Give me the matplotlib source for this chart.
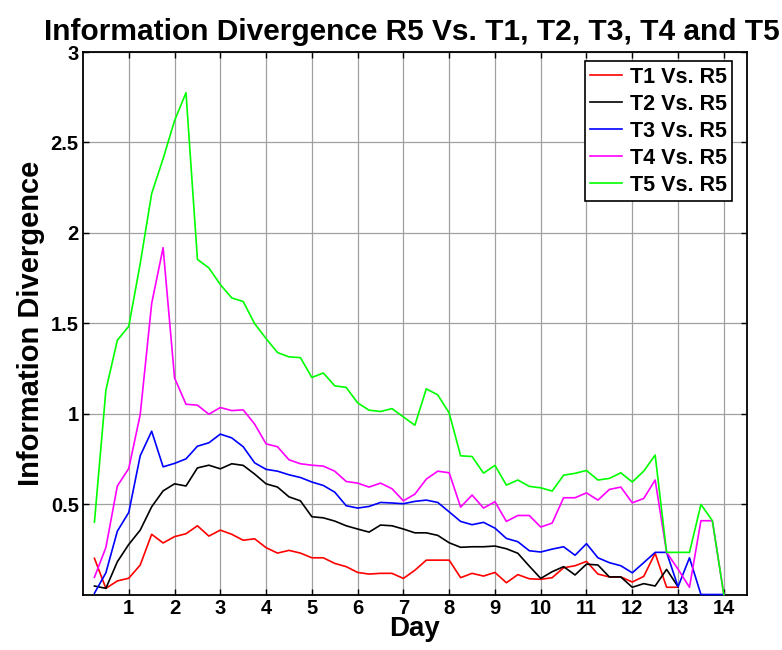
import matplotlib
matplotlib.use("Agg")
import matplotlib.pyplot as plt

days_short = [0.25, 0.5, 0.75, 1.0, 1.25, 1.5, 1.75, 2.0, 2.25, 2.5, 2.75, 3.0, 3.25,
              3.5, 3.75, 4.0, 4.25, 4.5, 4.75, 5.0, 5.25, 5.5, 5.75, 6.0, 6.25, 6.5,
              6.75, 7.0, 7.25, 7.5, 7.75, 8.0, 8.25, 8.5, 8.75, 9.0, 9.25, 9.5, 9.75,
              10.0, 10.25, 10.5, 10.75, 11.0, 11.25, 11.5, 11.75, 12.0, 12.25, 12.5,
              12.75, 13.0]
days_long = days_short + [13.25, 13.5, 13.75, 14.0]

t1 = [0.20, 0.034, 0.075, 0.09, 0.163, 0.333, 0.285, 0.32, 0.336, 0.38, 0.323, 0.356,
      0.333, 0.30, 0.308, 0.259, 0.229, 0.244, 0.229, 0.203, 0.203, 0.172, 0.154, 0.122,
      0.113, 0.117, 0.117, 0.089, 0.134, 0.19, 0.19, 0.19, 0.093, 0.117, 0.102, 0.122,
      0.065, 0.11, 0.087, 0.084, 0.093, 0.148, 0.159, 0.183, 0.113, 0.097, 0.097, 0.069,
      0.10, 0.228, 0.04, 0.04]
t2 = [0.047, 0.034, 0.181, 0.277, 0.356, 0.485, 0.573, 0.612, 0.60, 0.70, 0.715, 0.695,
      0.723, 0.714, 0.666, 0.612, 0.594, 0.54, 0.518, 0.43, 0.424, 0.406, 0.38, 0.362,
      0.345, 0.384, 0.38, 0.362, 0.341, 0.341, 0.327, 0.286, 0.261, 0.264, 0.264, 0.268,
      0.253, 0.228, 0.157, 0.089, 0.126, 0.154, 0.108, 0.168, 0.163, 0.097, 0.097, 0.04,
      0.06, 0.047, 0.139, 0.043]
t3 = [0.007, 0.12, 0.35, 0.454, 0.767, 0.903, 0.706, 0.725, 0.75, 0.82, 0.839, 0.887,
      0.866, 0.817, 0.728, 0.692, 0.682, 0.662, 0.647, 0.622, 0.603, 0.566, 0.491, 0.478,
      0.487, 0.509, 0.506, 0.502, 0.515, 0.522, 0.509, 0.457, 0.404, 0.386, 0.399, 0.367,
      0.31, 0.292, 0.242, 0.235, 0.251, 0.264, 0.217, 0.281, 0.203, 0.176, 0.159, 0.12,
      0.176, 0.233, 0.233, 0.043, 0.203, 0.0, 0.0, 0.0]
t4 = [0.095, 0.26, 0.60, 0.697, 0.995, 1.609, 1.918, 1.198, 1.052, 1.047, 0.997, 1.034,
      1.017, 1.021, 0.942, 0.833, 0.817, 0.745, 0.723, 0.715, 0.71, 0.682, 0.625, 0.616,
      0.594, 0.616, 0.585, 0.518, 0.555, 0.638, 0.682, 0.673, 0.483, 0.55, 0.478, 0.513,
      0.404, 0.437, 0.437, 0.373, 0.395, 0.535, 0.535, 0.562, 0.522, 0.581, 0.594, 0.507,
      0.531, 0.633, 0.233, 0.14, 0.04, 0.408, 0.408, 0.0]
t5 = [0.40, 1.13, 1.406, 1.483, 1.83, 2.217, 2.41, 2.62, 2.775, 1.853, 1.806, 1.714,
      1.64, 1.62, 1.498, 1.415, 1.338, 1.314, 1.31, 1.20, 1.225, 1.154, 1.145, 1.06,
      1.019, 1.012, 1.028, 0.982, 0.936, 1.137, 1.104, 1.004, 0.767, 0.763, 0.671, 0.714,
      0.605, 0.633, 0.598, 0.59, 0.572, 0.66, 0.67, 0.686, 0.633, 0.642, 0.673, 0.622,
      0.682, 0.771, 0.233, 0.233, 0.233, 0.498, 0.408, 0.0]

labels = ["T1 Vs. R5", "T2 Vs. R5", "T3 Vs. R5", "T4 Vs. R5", "T5 Vs. R5"]
colors = ["#ff0000", "#000000", "#0000ff", "#ff00ff", "#00ff00"]
xticks = [1, 2, 3, 4, 5, 6, 7, 8, 9, 10, 11, 12, 13, 14]
yticks = [0.5, 1, 1.5, 2, 2.5, 3]
ytick_labels = ["0.5", "1", "1.5", "2", "2.5", "3"]

plt.rcParams['font.family'] = ['Liberation Sans', 'DejaVu Sans']

fig = plt.figure(figsize=(7.82, 6.5), dpi=100)
ax = fig.add_axes([83 / 782, 1 - 594.5 / 650, (746.7 - 83) / 782, (594.5 - 52) / 650])

series = [(days_short, t1), (days_short, t2), (days_long, t3), (days_long, t4), (days_long, t5)]
for (x, y), lab, c in zip(series, labels, colors):
    ax.plot(x, y, color=c, lw=1.2, label=lab, clip_on=False, zorder=3)

ax.set_xlim(0, 14.5)
ax.set_ylim(0, 3)
ax.set_xticks(xticks)
ax.set_xticklabels([str(t) for t in xticks], fontsize=14.5, fontweight='bold')
ax.set_yticks(yticks)
ax.set_yticklabels(ytick_labels, fontsize=14.5, fontweight='bold')
ax.grid(True, color='#a0a0a0', lw=0.9, ls='-')
ax.set_axisbelow(True)
ax.tick_params(direction='in', length=4, width=1, top=True, right=True, pad=3)
for sp in ax.spines.values():
    sp.set_linewidth(1.3)

ax.set_title("Information Divergence R5 Vs. T1, T2, T3, T4 and T5",
             fontsize=21.5, fontweight='bold', pad=9, x=0.495)
ax.set_xlabel("Day", fontsize=20, fontweight='bold', labelpad=-1)
ax.set_ylabel("Information Divergence", fontsize=21, fontweight='bold', labelpad=4)

leg = ax.legend(loc='upper right', bbox_to_anchor=(0.978, 0.983),
                prop={'weight': 'bold', 'size': 15.5}, frameon=True, fancybox=False,
                handlelength=1.5, handletextpad=0.35, borderpad=0.25, labelspacing=0.28,
                borderaxespad=0)
leg.get_frame().set_edgecolor('black')
leg.get_frame().set_linewidth(1.2)
leg.get_frame().set_alpha(1)

fig.savefig("out.png", dpi=100)
